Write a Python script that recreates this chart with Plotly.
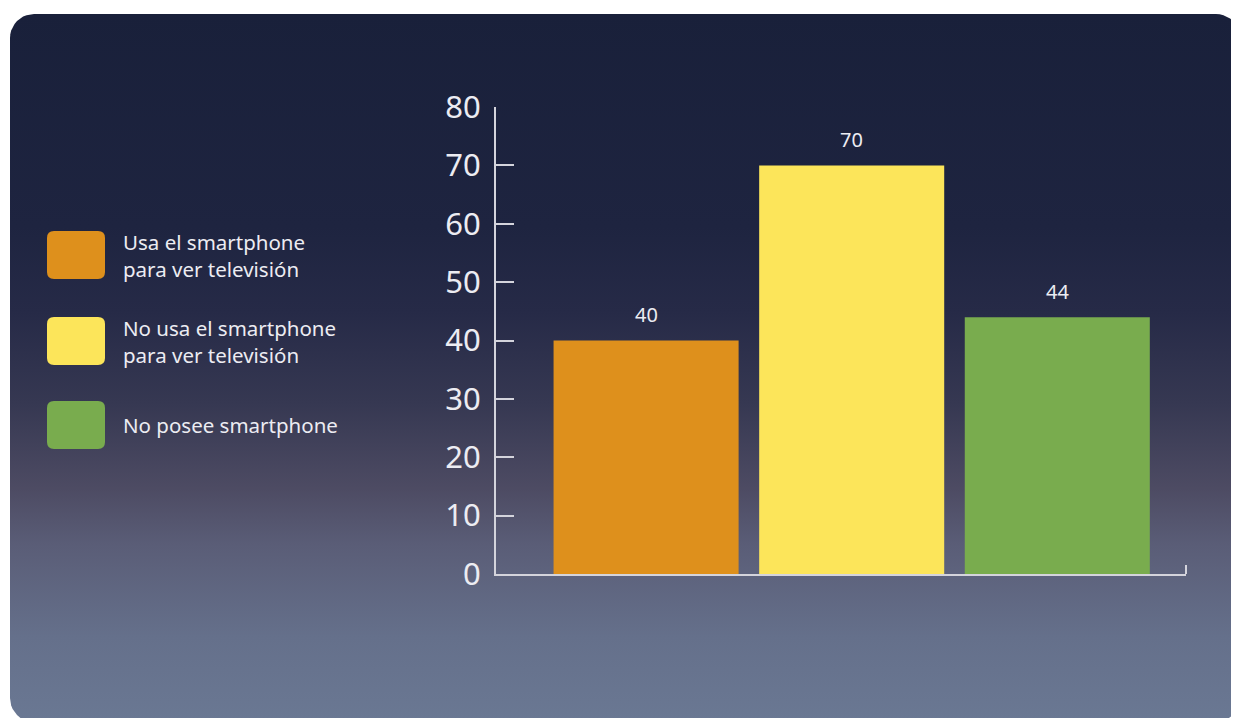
import plotly.graph_objects as go
import math

# ---- data ----
categories = ["Usa el smartphone<br>para ver televisión",
              "No usa el smartphone<br>para ver televisión",
              "No posee smartphone"]
values = [40, 70, 44]
colors = ["#DE901C", "#FCE55A", "#79AC4E"]
y_ticks = [0, 10, 20, 30, 40, 50, 60, 70, 80]

W, H = 1239, 718
OFF = 8  # page offset of the figure inside the browser window
FONT = "Noto Sans"
TXT = "#ECECF2"
AXC = "#D4D4DC"


def px(x):
    return x - OFF


def py(y):  # screen-from-top -> background coordinates (from bottom)
    return H - (y - OFF)


def rounded_path(x0, y0, x1, y1, r):
    return (f"M{x0+r},{y0} L{x1-r},{y0} Q{x1},{y0} {x1},{y0+r} "
            f"L{x1},{y1-r} Q{x1},{y1} {x1-r},{y1} L{x0+r},{y1} "
            f"Q{x0},{y1} {x0},{y1-r} L{x0},{y0+r} Q{x0},{y0} {x0+r},{y0} Z")


def rounded_pts(x0, y0, x1, y1, r, n=10):
    xs, ys = [], []
    corners = [(x1 - r, y1 - r, 0), (x0 + r, y1 - r, 90), (x0 + r, y0 + r, 180), (x1 - r, y0 + r, 270)]
    for cx, cy, a0 in corners:
        for i in range(n + 1):
            a = math.radians(a0 + 90 * i / n)
            xs.append(cx + r * math.cos(a))
            ys.append(cy + r * math.sin(a))
    xs.append(xs[0]); ys.append(ys[0])
    return xs, ys


fig = go.Figure()

bx, by = rounded_pts(px(10), py(722), px(1240), py(14), 24)
fig.add_trace(go.Scatter(
    x=bx, y=by, mode="lines", line=dict(width=0), fill="toself",
    fillgradient=dict(type="vertical", colorscale=[
        [0.0, "#6A7893"], [0.12, "#65708B"], [0.25, "#5A5D77"], [0.33, "#4D4B63"],
        [0.45, "#363852"], [0.58, "#262A47"], [0.7, "#1E2440"], [1.0, "#19203A"]]),
    hoverinfo="skip", showlegend=False, xaxis="x", yaxis="y"))

fig.add_trace(go.Bar(
    x=categories, y=values, marker=dict(color=colors, line=dict(width=0)),
    width=0.9, showlegend=False, hoverinfo="skip", xaxis="x2", yaxis="y2"))

for c, v in zip(categories, values):
    fig.add_annotation(x=c, y=v, xref="x2", yref="y2", text=str(v), showarrow=False,
                       yanchor="middle", yshift=26,
                       font=dict(family=FONT, size=20, color=TXT))

legend_rows = [255, 341, 425]  # screen y centres of swatches
for name, col, cy in zip(categories, colors, legend_rows):
    yb = py(cy)
    fig.add_shape(type="path", xref="x", yref="y",
                  path=rounded_path(px(47), yb - 24, px(105), yb + 24, 7),
                  fillcolor=col, line=dict(width=0), layer="above")
    fig.add_annotation(x=px(121), y=yb, xref="x", yref="y", text=name, showarrow=False,
                       xanchor="left", yanchor="middle", align="left",
                       font=dict(family=FONT, size=20.5, color=TXT))

fig.add_shape(type="line", xref="x2 domain", yref="y2", x0=1, x1=1, y0=0, y1=9,
              ysizemode="pixel", yanchor=0, line=dict(color=AXC, width=2))

fig.update_layout(
    template="none",
    width=W, height=H, margin=dict(l=0, r=0, t=0, b=0, pad=0, autoexpand=False),
    paper_bgcolor="white", plot_bgcolor="rgba(0,0,0,0)",
    xaxis=dict(domain=[0, 1], range=[0, W], visible=False, fixedrange=True, automargin=False),
    yaxis=dict(domain=[0, 1], range=[0, H], visible=False, fixedrange=True, automargin=False),
    xaxis2=dict(domain=[px(496) / W, px(1186) / W], range=[-0.73, 2.626], anchor="y2",
                showticklabels=False, ticks="", showgrid=False, zeroline=False,
                showline=True, linecolor=AXC, linewidth=2, automargin=False),
    yaxis2=dict(domain=[1 - px(574) / H, 1 - px(107) / H], range=[0, 80], anchor="x2",
                tickvals=y_ticks, ticks="inside", ticklen=18, tickwidth=2,
                tickcolor=AXC, showgrid=False, zeroline=False,
                showline=True, linecolor=AXC, linewidth=2,
                ticklabelstandoff=7, automargin=False,
                tickfont=dict(family=FONT, size=31, color=TXT)),
    bargap=0.1, showlegend=False,
)

fig.write_html("out.html")
